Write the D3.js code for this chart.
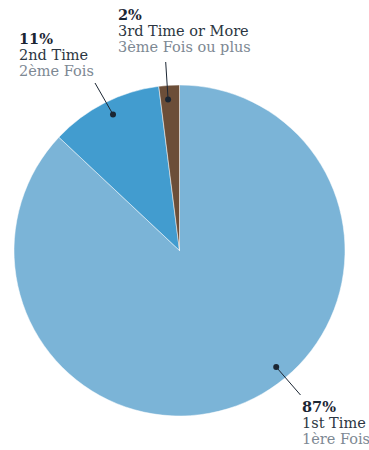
<!DOCTYPE html>
<html>
<head>
<meta charset="utf-8">
<script src="https://cdn.jsdelivr.net/npm/d3@7"></script>
<style>
  body { margin: 0; background: #fff; }
  svg text { font-family: "DejaVu Serif", serif; font-size: 14.5px; }
</style>
</head>
<body>
<svg id="chart"></svg>
<script>
const W = 369, H = 450;

// data
const shares = [87, 11, 2];
const labelsEn = ["1st Time", "2nd Time", "3rd Time or More"];
const labelsFr = ["1ère Fois", "2ème Fois", "3ème Fois ou plus"];
const colors = ["#7bb4d7", "#429ccf", "#6c4e38"];

// label placement
const labelPos = [[302, 412], [19, 44], [118, 20]];
const lineEnd = [[300.5, 395], [95, 83], [165.7, 62]];
// where the dot sits inside its slice (fraction of the slice angle)
const dotFrac = [0.448, 0.524, 0.40];

const cx = 179.5, cy = 250.5, r = 165.5;

const svg = d3.select("#chart").attr("width", W).attr("height", H);

const pie = d3.pie().sort(null).value(d => d);
const arcs = pie(shares);
const arc = d3.arc().innerRadius(0).outerRadius(r);

const g = svg.append("g").attr("transform", "translate(" + cx + "," + cy + ")");

g.selectAll("path")
  .data(arcs)
  .enter()
  .append("path")
  .attr("d", arc)
  .attr("fill", (d, i) => colors[i])
  .attr("stroke", "#fff")
  .attr("stroke-width", 0.5);

// leader lines and dots
arcs.forEach(function (d, i) {
  const a = d.startAngle + (d.endAngle - d.startAngle) * dotFrac[i];
  const rr = r * 0.915;
  const px = cx + rr * Math.sin(a);
  const py = cy - rr * Math.cos(a);
  svg.append("line")
    .attr("x1", px).attr("y1", py)
    .attr("x2", lineEnd[i][0]).attr("y2", lineEnd[i][1])
    .attr("stroke", "#1b2633")
    .attr("stroke-width", 1);
  svg.append("circle")
    .attr("cx", px).attr("cy", py)
    .attr("r", 3)
    .attr("fill", "#1b2633");
});

// labels
shares.forEach(function (v, i) {
  const t = svg.append("text")
    .attr("x", labelPos[i][0])
    .attr("y", labelPos[i][1]);
  t.append("tspan")
    .attr("x", labelPos[i][0])
    .attr("font-weight", "bold")
    .attr("fill", "#1b2633")
    .text(v + "%");
  t.append("tspan")
    .attr("x", labelPos[i][0])
    .attr("dy", 16)
    .attr("fill", "#2c3642")
    .text(labelsEn[i]);
  t.append("tspan")
    .attr("x", labelPos[i][0])
    .attr("dy", 16)
    .attr("fill", "#7d8893")
    .text(labelsFr[i]);
});
</script>
</body>
</html>
